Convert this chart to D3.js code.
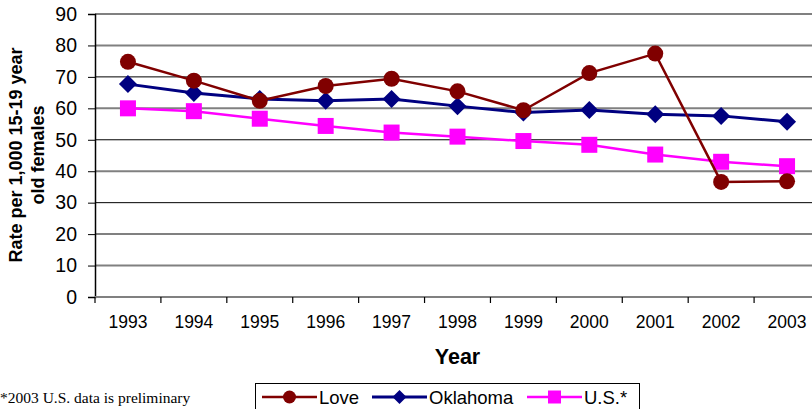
<!DOCTYPE html>
<html>
<head>
<meta charset="utf-8">
<script src="https://cdn.jsdelivr.net/npm/d3@7"></script>
<style>
  body { margin: 0; background: #fff; }
  svg { display: block; font-family: Arial, "Liberation Sans", sans-serif; }
</style>
</head>
<body>
<div id="chart"></div>
<script>
const years = ["1993", "1994", "1995", "1996", "1997", "1998", "1999", "2000", "2001", "2002", "2003"];
const love = [74.8, 68.8, 62.4, 67.1, 69.4, 65.4, 59.4, 71.2, 77.4, 36.6, 36.8];
const oklahoma = [67.7, 64.9, 63.0, 62.4, 63.0, 60.7, 58.7, 59.5, 58.1, 57.6, 55.7];
const us = [60.0, 59.1, 56.7, 54.4, 52.3, 51.0, 49.6, 48.4, 45.3, 43.0, 41.6];
const yTicks = [0, 10, 20, 30, 40, 50, 60, 70, 80, 90];

const width = 812, height = 409;
const margin = {top: 14, right: -8, bottom: 112, left: 95};

const svg = d3.select("#chart").append("svg")
  .attr("width", width)
  .attr("height", height);

const x = d3.scaleBand()
  .domain(years)
  .range([margin.left, width - margin.right])
  .padding(0);

const y = d3.scaleLinear()
  .domain([0, 90])
  .range([height - margin.bottom, margin.top]);

const cx = d => x(d) + x.bandwidth() / 2;

// gridlines - the excel render shows some darker/thinner than others
const darkGrid = [30, 50, 70];
svg.append("g")
  .selectAll("line")
  .data(yTicks.filter(d => d > 0))
  .join("line")
  .attr("x1", margin.left)
  .attr("x2", width)
  .attr("y1", d => y(d))
  .attr("y2", d => y(d))
  .attr("stroke", d => darkGrid.includes(d) ? "#000" : "#808080")
  .attr("stroke-width", d => darkGrid.includes(d) ? 1 : 2);

// y axis
const yAxis = g => g
  .attr("transform", `translate(${margin.left},0)`)
  .call(d3.axisLeft(y).tickValues(yTicks).tickSize(7).tickPadding(11))
  .call(g => g.select(".domain").attr("stroke", "#000").attr("stroke-width", 1.5))
  .call(g => g.selectAll(".tick line").attr("stroke", "#000"))
  .call(g => g.selectAll(".tick text")
    .attr("font-size", 19.5)
    .attr("font-family", "Arial, 'Liberation Sans', sans-serif")
    .attr("fill", "#000"));

svg.append("g").call(yAxis);

// x axis: labels centred in the band, ticks on the band edges
const xAxis = g => g
  .attr("transform", `translate(0,${y(0)})`)
  .call(d3.axisBottom(x).tickSize(0).tickPadding(19))
  .call(g => g.select(".domain").remove())
  .call(g => g.selectAll(".tick text")
    .attr("font-size", 17.5)
    .attr("font-family", "Arial, 'Liberation Sans', sans-serif")
    .attr("fill", "#000"));

svg.append("g").call(xAxis);

svg.append("line")
  .attr("x1", margin.left)
  .attr("x2", width)
  .attr("y1", y(0))
  .attr("y2", y(0))
  .attr("stroke", "#808080")
  .attr("stroke-width", 2);

svg.append("g")
  .selectAll("line")
  .data(years)
  .join("line")
  .attr("x1", d => x(d))
  .attr("x2", d => x(d))
  .attr("y1", y(0))
  .attr("y2", y(0) + 6)
  .attr("stroke", "#000")
  .attr("stroke-width", 1.2);

// axis titles
svg.append("text")
  .attr("x", (margin.left + width - margin.right) / 2)
  .attr("y", 364)
  .attr("text-anchor", "middle")
  .attr("font-size", 21.5)
  .attr("font-weight", "bold")
  .text("Year");

const yTitle = svg.append("text")
  .attr("transform", "translate(22,155) rotate(-90)")
  .attr("text-anchor", "middle")
  .attr("font-size", 18)
  .attr("font-weight", "bold");
yTitle.append("tspan").attr("x", 0).attr("y", 0).text("Rate per 1,000 15-19 year");
yTitle.append("tspan").attr("x", 0).attr("y", 22).text("old females");

// series
const series = [
  {name: "Love", values: love, color: "#800000", shape: "circle", width: 2.5},
  {name: "Oklahoma", values: oklahoma, color: "#000080", shape: "diamond", width: 3},
  {name: "U.S.*", values: us, color: "#FF00FF", shape: "square", width: 2.5}
];

// square diamond (d3's diamond is too tall and narrow)
const diamondPath = s => `M0,${-s / 2}L${s / 2},0L0,${s / 2}L${-s / 2},0Z`;

const symbolPath = (shape, size) => {
  if (shape === "circle") return d3.symbol(d3.symbolCircle, size * size * Math.PI / 4)();
  if (shape === "square") return d3.symbol(d3.symbolSquare, size * size)();
  return diamondPath(size);
};

const line = d3.line()
  .x((d, i) => cx(years[i]))
  .y(d => y(d));

// draw in reverse so Love ends up on top
series.slice().reverse().forEach(s => {
  const g = svg.append("g");
  g.append("path")
    .datum(s.values)
    .attr("fill", "none")
    .attr("stroke", s.color)
    .attr("stroke-width", s.width)
    .attr("d", line);
  g.selectAll("path.marker")
    .data(s.values)
    .join("path")
    .attr("class", "marker")
    .attr("transform", (d, i) => `translate(${cx(years[i])},${y(d)})`)
    .attr("fill", s.color)
    .attr("d", symbolPath(s.shape, s.shape === "diamond" ? 18 : 16));
});

// footnote
svg.append("text")
  .attr("x", 0)
  .attr("y", 403)
  .attr("font-family", "'Liberation Serif', 'Times New Roman', serif")
  .attr("font-size", 15.5)
  .text("*2003 U.S. data is preliminary");

// legend
const legend = svg.append("g");
legend.append("rect")
  .attr("x", 255.5)
  .attr("y", 383.5)
  .attr("width", 384)
  .attr("height", 40)
  .attr("fill", "#fff")
  .attr("stroke", "#000")
  .attr("stroke-width", 1);

const legendX = [262, 372, 527];
series.forEach((s, i) => {
  const lx = legendX[i];
  const ly = 397;
  legend.append("line")
    .attr("x1", lx).attr("x2", lx + 55)
    .attr("y1", ly).attr("y2", ly)
    .attr("stroke", s.color)
    .attr("stroke-width", s.width);
  legend.append("path")
    .attr("transform", `translate(${lx + 27.5},${ly})`)
    .attr("fill", s.color)
    .attr("d", symbolPath(s.shape, s.shape === "diamond" ? 14 : 13));
  legend.append("text")
    .attr("x", lx + 57)
    .attr("y", ly + 6.5)
    .attr("font-size", 18.5)
    .text(s.name);
});
</script>
</body>
</html>
